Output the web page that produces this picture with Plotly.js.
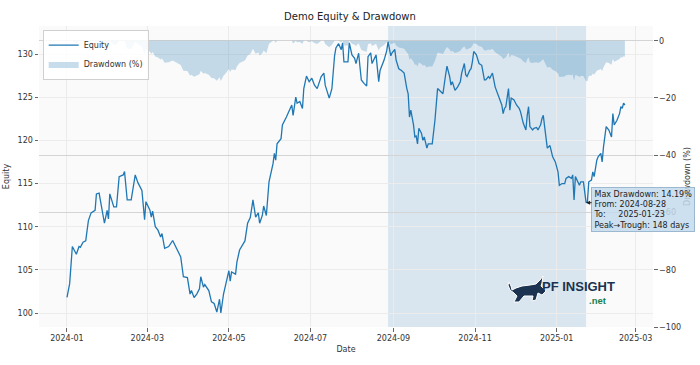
<!DOCTYPE html>
<html>
<head>
<meta charset="utf-8">
<script src="https://cdn.plot.ly/plotly-3.0.1.min.js"></script>
<style>html,body{margin:0;padding:0;background:#fff;}#chart{width:700px;height:365px;}</style>
</head>
<body>
<div id="chart"></div>
<script>
// ---- data ----
const dates = [
'2024-01-01','2024-01-03','2024-01-05','2024-01-08','2024-01-10','2024-01-11','2024-01-13','2024-01-15','2024-01-17','2024-01-19',
'2024-01-22','2024-01-23','2024-01-25','2024-01-27','2024-01-29','2024-01-31','2024-02-01','2024-02-02','2024-02-05','2024-02-07',
'2024-02-09','2024-02-12','2024-02-13','2024-02-15','2024-02-18','2024-02-21','2024-02-23','2024-02-26','2024-02-28','2024-02-29',
'2024-03-02','2024-03-03','2024-03-04','2024-03-05','2024-03-07','2024-03-09','2024-03-11','2024-03-12','2024-03-14','2024-03-17',
'2024-03-20','2024-03-22','2024-03-26','2024-03-28','2024-03-31','2024-04-02','2024-04-03','2024-04-05','2024-04-07','2024-04-09',
'2024-04-10','2024-04-12','2024-04-13','2024-04-16','2024-04-18','2024-04-20','2024-04-22','2024-04-24','2024-04-25','2024-04-27',
'2024-04-29','2024-05-01','2024-05-02','2024-05-03','2024-05-06','2024-05-07','2024-05-09','2024-05-13','2024-05-15','2024-05-17',
'2024-05-19','2024-05-21','2024-05-23','2024-05-24','2024-05-26','2024-05-27','2024-05-29','2024-05-30','2024-05-31','2024-06-03',
'2024-06-04','2024-06-05','2024-06-06','2024-06-09','2024-06-10','2024-06-13','2024-06-16','2024-06-17','2024-06-18','2024-06-20',
'2024-06-21','2024-06-23','2024-06-25','2024-06-26','2024-06-28','2024-06-30','2024-07-02','2024-07-04','2024-07-06','2024-07-08',
'2024-07-09','2024-07-11','2024-07-12','2024-07-15','2024-07-17','2024-07-19','2024-07-20','2024-07-22','2024-07-24','2024-07-25',
'2024-07-26','2024-07-29','2024-07-30','2024-08-01','2024-08-03','2024-08-04','2024-08-06','2024-08-07','2024-08-08','2024-08-10',
'2024-08-12','2024-08-13','2024-08-15','2024-08-16','2024-08-18','2024-08-19','2024-08-21','2024-08-22','2024-08-25','2024-08-27',
'2024-08-28','2024-08-30','2024-08-31','2024-09-02','2024-09-03','2024-09-05','2024-09-07','2024-09-09','2024-09-11','2024-09-12',
'2024-09-13','2024-09-14','2024-09-16','2024-09-17','2024-09-18','2024-09-19','2024-09-20','2024-09-22','2024-09-23','2024-09-24',
'2024-09-26','2024-09-27','2024-09-30','2024-10-02','2024-10-04','2024-10-07','2024-10-08','2024-10-10','2024-10-11','2024-10-13',
'2024-10-14','2024-10-15','2024-10-17','2024-10-19','2024-10-21','2024-10-22','2024-10-24','2024-10-25','2024-10-26','2024-10-28',
'2024-10-29','2024-10-30','2024-10-31','2024-11-02','2024-11-03','2024-11-04','2024-11-06','2024-11-08','2024-11-09','2024-11-11',
'2024-11-12','2024-11-14','2024-11-16','2024-11-19','2024-11-20','2024-11-21','2024-11-22','2024-11-23','2024-11-24','2024-11-26',
'2024-11-27','2024-11-28','2024-11-30','2024-12-02','2024-12-04','2024-12-05','2024-12-07','2024-12-09','2024-12-10','2024-12-11',
'2024-12-12','2024-12-14','2024-12-15','2024-12-17','2024-12-18','2024-12-20','2024-12-21','2024-12-22','2024-12-23','2024-12-25',
'2024-12-27','2024-12-28','2024-12-29','2024-12-31','2025-01-01','2025-01-02','2025-01-03','2025-01-05','2025-01-07','2025-01-08',
'2025-01-10','2025-01-12','2025-01-13','2025-01-14','2025-01-15','2025-01-17','2025-01-18','2025-01-19','2025-01-21','2025-01-23',
'2025-01-24','2025-01-25','2025-01-27','2025-01-28','2025-01-29','2025-01-31','2025-02-01','2025-02-03','2025-02-04','2025-02-05',
'2025-02-07','2025-02-09','2025-02-11','2025-02-12','2025-02-13','2025-02-15','2025-02-17','2025-02-18','2025-02-19','2025-02-20',
'2025-02-21'
];
const equity = [
101.8,103.4,107.7,106.8,107.7,107.6,108.2,108.35,110.7,111.6,
111.9,113.8,113.9,112.3,110.4,111.9,110.9,113.8,112.3,112.3,
115.8,116.0,116.4,113.1,113.1,116.0,115.1,114.2,110.8,112.9,
112.3,111.9,111.1,111.8,110.0,109.6,108.8,109.2,107.5,107.7,
108.4,107.7,106.5,104.2,104.1,102.2,102.6,101.8,102.2,102.8,
104.2,103.0,103.3,102.6,101.3,101.1,100.1,101.6,100.0,102.2,
103.4,104.9,103.7,104.75,104.5,105.9,107.3,108.35,110.4,111.05,
113.1,111.1,111.6,110.4,111.3,112.4,111.3,113.45,115.2,117.3,
118.5,117.7,119.6,120.2,121.8,122.7,123.8,124.1,122.9,125.0,
124.3,124.5,123.7,126.0,127.45,126.8,127.2,126.4,126.0,127.0,
127.4,127.8,126.4,124.9,126.0,129.8,130.7,131.2,130.5,131.3,
129.1,129.1,131.3,129.9,129.5,128.9,130.1,128.5,127.0,126.6,
126.3,129.7,130.15,128.9,129.5,129.9,126.8,128.1,129.3,130.4,
131.43,129.8,130.15,130.55,129.3,128.3,128.1,127.8,126.0,125.4,
122.7,123.5,121.8,120.4,120.5,119.6,121.4,120.8,120.0,120.4,
119.1,119.6,119.6,122.3,126.0,125.6,125.4,127.6,128.6,127.4,
126.4,126.8,125.8,126.2,126.8,127.8,128.9,127.6,127.4,128.1,
128.3,129.1,130.3,129.9,129.3,128.9,128.7,127.0,127.0,127.4,
127.2,127.8,126.2,125.05,124.5,124.1,123.1,123.7,123.9,126.0,
123.5,124.9,124.7,124.1,123.7,123.3,122.0,121.2,122.9,123.9,
121.6,121.2,121.4,121.5,121.2,121.8,122.5,122.9,121.6,119.1,
119.4,118.7,118.1,117.5,116.9,116.35,114.8,115.0,115.0,115.6,
115.8,115.6,116.0,113.1,115.8,115.2,114.8,115.2,115.2,112.78,
112.9,115.2,115.4,116.35,115.8,117.7,118.1,118.5,117.5,119.25,
121.6,121.2,120.4,123.1,121.8,122.3,123.1,123.9,123.7,124.3,
124.1
];
const ddPeakDate = '2024-08-28';
const ddTroughDate = '2025-01-23';
const ddTroughValue = 112.78;
const boxLines = ['Max Drawdown: 14.19%', 'From: 2024-08-28', 'To:\u00a0\u00a0\u00a0\u00a0 2025-01-23', 'Peak\u2192Trough: 148 days'];
const eqTicks = [100, 105, 110, 115, 120, 125, 130];
const ddTicks = [-100, -80, -60, -40, -20, 0];

// drawdown (%) derived from the equity curve
let runMax = -Infinity;
const drawdown = equity.map(v => { runMax = Math.max(runMax, v); return (v / runMax - 1) * 100; });

const FONT = 'DejaVu Sans, sans-serif';
const L = 39, T = 26, W = 614, H = 301;
const P = (X, Y) => [((X - L) / W).toFixed(4), (1 - (Y - T) / H).toFixed(4)];
function pathFrom(pts) { return 'M ' + pts.map(p => P(p[0], p[1]).join(',')).join(' L ') + ' Z'; }

const traces = [
  { x: dates, y: equity, type: 'scatter', mode: 'lines', name: 'Equity', yaxis: 'y2',
    line: { color: '#1f77b4', width: 1.3 }, hoverinfo: 'skip' },
  { x: dates, y: drawdown, type: 'scatter', mode: 'lines', name: 'Drawdown (%)', yaxis: 'y',
    fill: 'tozeroy', fillcolor: 'rgba(31,119,180,0.25)', line: { width: 0, color: 'rgba(31,119,180,0)' }, hoverinfo: 'skip' }
];

const bull = [[509,282],[511,286],[512,290],[516,288],[522,286],[530,285],[536,284],[540,280],[543,276],[542,283],[541,286],[546,291],[542,295],[538,293],[536,300],[532,301],[533,296],[524,296],[519,302],[514,302],[517,296],[514,293],[510,290],[508,285]];

const layout = {
  width: 700, height: 365,
  margin: { l: L, r: 700 - L - W, t: T, b: 365 - T - H },
  paper_bgcolor: '#ffffff', plot_bgcolor: '#fafafa',
  font: { family: FONT, size: 8, color: '#333' },
  title: { text: 'Demo Equity & Drawdown', font: { family: FONT, size: 10, color: '#222' }, x: 0.5, xanchor: 'center', y: 0.955, yanchor: 'middle' },
  showlegend: true,
  legend: { x: 0.006, y: 0.988, xanchor: 'left', yanchor: 'top', bgcolor: 'rgba(255,255,255,0.85)', bordercolor: '#d0d0d0', borderwidth: 1,
            font: { family: FONT, size: 8, color: '#333' }, tracegroupgap: 0, itemwidth: 30 },
  xaxis: { type: 'date', range: ['2023-12-11 02:00', '2025-03-14'], tick0: '2024-01-01', dtick: 'M2', tickformat: '%Y-%m',
           showgrid: true, gridcolor: '#ebebeb', zeroline: false, showline: false, ticks: 'outside', ticklen: 3.5, tickcolor: '#666',
           tickfont: { family: FONT, size: 8, color: '#333' },
           title: { text: 'Date', font: { family: FONT, size: 8, color: '#333' }, standoff: 4 } },
  yaxis: { side: 'right', range: [-100, 5.15], tickvals: ddTicks, showgrid: true, gridcolor: '#d4d4d4', zeroline: false, showline: false,
           ticks: 'outside', ticklen: 3.5, tickcolor: '#666', tickfont: { family: FONT, size: 8, color: '#333' },
           title: { text: 'Drawdown (%)', font: { family: FONT, size: 8, color: '#333' }, standoff: 4 } },
  yaxis2: { overlaying: 'y', side: 'left', range: [98.38, 133.25], tickvals: eqTicks, showgrid: true, gridcolor: '#ececec', zeroline: false,
            showline: false, ticks: 'outside', ticklen: 3.5, tickcolor: '#666', tickfont: { family: FONT, size: 8, color: '#333' },
            title: { text: 'Equity', font: { family: FONT, size: 8, color: '#333' }, standoff: 6 } },
  shapes: [
    { type: 'rect', xref: 'x', yref: 'paper', x0: ddPeakDate, x1: ddTroughDate, y0: 0, y1: 1,
      fillcolor: 'rgba(31,119,180,0.15)', line: { width: 0 }, layer: 'below' },
    { type: 'path', xref: 'paper', yref: 'paper', path: pathFrom(bull), fillcolor: '#1b3250', line: { color: '#ffffff', width: 1 }, layer: 'above' }
  ],
  annotations: [
    { xref: 'paper', yref: 'paper', x: P(591.5, 0)[0] * 1, y: P(0, 187)[1] * 1, xanchor: 'left', yanchor: 'top',
      text: boxLines.join('<br>'), align: 'left', showarrow: false,
      font: { family: FONT, size: 8, color: '#222' }, bgcolor: 'rgba(196,218,236,0.85)', bordercolor: '#9bb8d0', borderwidth: 1, borderpad: 1.5 },
    { xref: 'x', yref: 'y2', x: ddTroughDate, y: ddTroughValue, ax: 7, ay: 0, text: '', showarrow: true,
      arrowhead: 2, arrowsize: 0.8, arrowwidth: 1, arrowcolor: '#222' },
    { xref: 'paper', yref: 'paper', x: P(540, 0)[0] * 1, y: P(0, 287)[1] * 1, xanchor: 'left', yanchor: 'middle', showarrow: false,
      text: '<b>PF INSIGHT</b>', font: { family: 'Liberation Sans, Arial, sans-serif', size: 13, color: '#1b3250' } },
    { xref: 'paper', yref: 'paper', x: P(587, 0)[0] * 1, y: P(0, 300.5)[1] * 1, xanchor: 'left', yanchor: 'middle', showarrow: false,
      text: '<b>.net</b>', font: { family: 'Liberation Sans, Arial, sans-serif', size: 9.5, color: '#17804f' } }
  ]
};

Plotly.newPlot('chart', traces, layout, { staticPlot: true, displayModeBar: false });
</script>
</body>
</html>
